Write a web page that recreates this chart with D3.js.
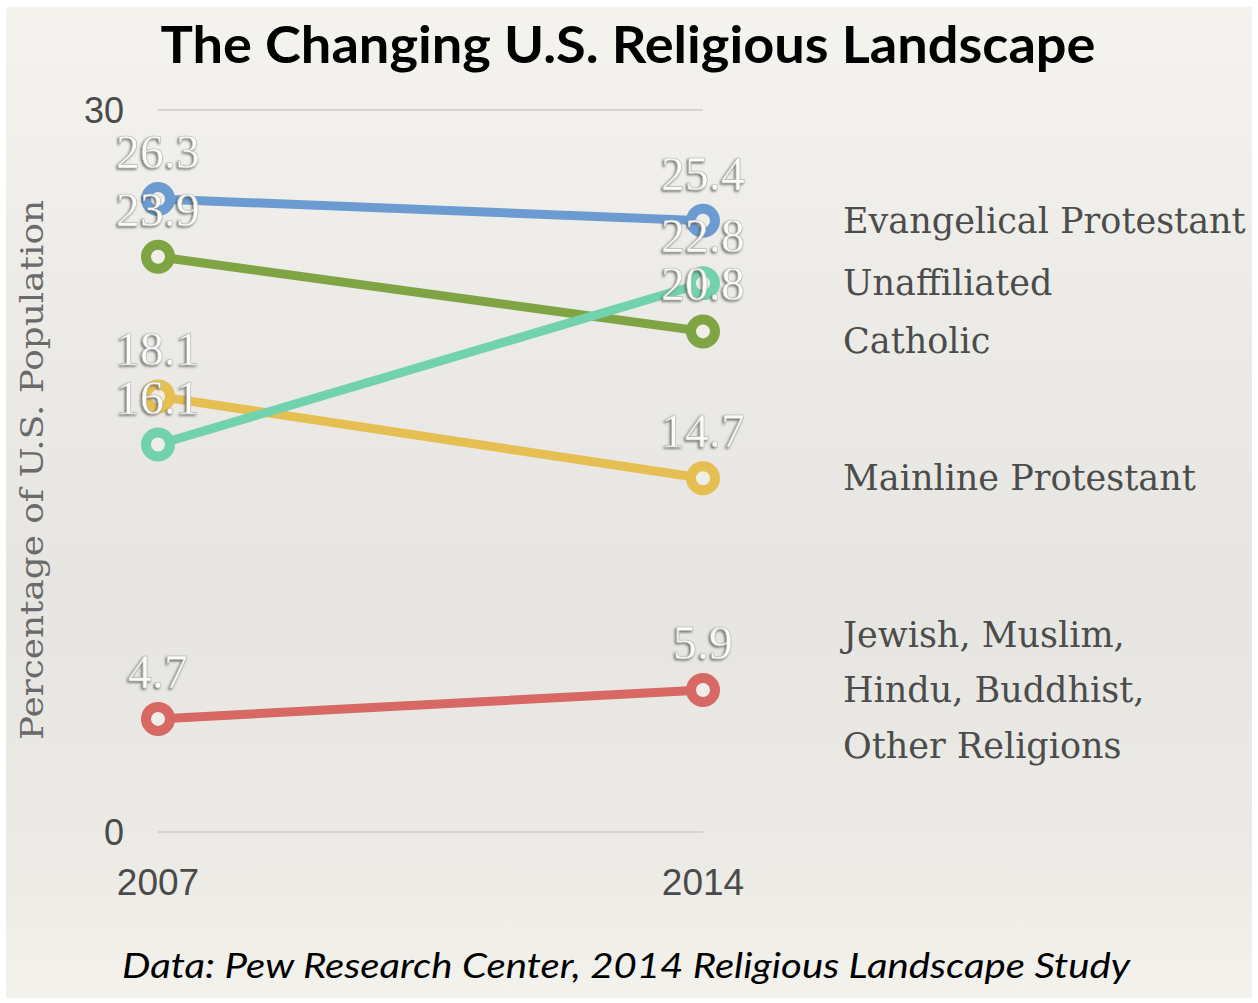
<!DOCTYPE html>
<html>
<head>
<meta charset="utf-8">
<script src="https://cdn.jsdelivr.net/npm/d3@7"></script>
<style>
  html, body { margin: 0; padding: 0; background: #ffffff; }
  svg { display: block; }
</style>
</head>
<body>
<svg id="chart" width="1258" height="1003"></svg>
<script>
// ---- Data ----
const years = ["2007", "2014"];
const seriesNames = ["Evangelical Protestant", "Unaffiliated", "Catholic", "Mainline Protestant", "Jewish, Muslim, Hindu, Buddhist, Other Religions"];
const values2007 = [26.3, 16.1, 23.9, 18.1, 4.7];
const values2014 = [25.4, 22.8, 20.8, 14.7, 5.9];
const seriesColors = ["#6b9bd0", "#72d2ad", "#7fa443", "#e6bf52", "#d76863"];
const legendLines = [
  ["Evangelical Protestant"],
  ["Unaffiliated"],
  ["Catholic"],
  ["Mainline Protestant"],
  ["Jewish, Muslim,", "Hindu, Buddhist,", "Other Religions"]
];
const yTicks = [0, 30];
const titleText = "The Changing U.S. Religious Landscape";
const yAxisTitle = "Percentage of U.S. Population";
const sourceText = "Data: Pew Research Center, 2014 Religious Landscape Study";

// ---- Setup ----
const W = 1258, H = 1003;
const svg = d3.select("#chart");
const defs = svg.append("defs");

const bg = defs.append("linearGradient").attr("id", "bg").attr("x1", 0).attr("y1", 0).attr("x2", 0).attr("y2", 1);
bg.append("stop").attr("offset", "0%").attr("stop-color", "#f4f3ee");
bg.append("stop").attr("offset", "30%").attr("stop-color", "#ecebe7");
bg.append("stop").attr("offset", "60%").attr("stop-color", "#e6e5e1");
bg.append("stop").attr("offset", "88%").attr("stop-color", "#ecebe6");
bg.append("stop").attr("offset", "100%").attr("stop-color", "#f3f2ed");

const sh = defs.append("filter").attr("id", "lblshadow").attr("x", "-20%").attr("y", "-20%").attr("width", "140%").attr("height", "140%");
sh.append("feDropShadow").attr("dx", -1.5).attr("dy", 1.5).attr("stdDeviation", 1.1)
  .attr("flood-color", "#4a4a4a").attr("flood-opacity", 0.75);

svg.append("rect").attr("x", 0).attr("y", 0).attr("width", W).attr("height", H).attr("fill", "#ffffff");
svg.append("rect").attr("x", 6).attr("y", 7).attr("width", W - 12).attr("height", H - 12).attr("fill", "url(#bg)");

// Title
svg.append("text")
  .attr("x", 628).attr("y", 63)
  .attr("text-anchor", "middle")
  .attr("font-family", "Lato, 'Open Sans', sans-serif")
  .attr("font-weight", 700)
  .attr("font-size", 52)
  .attr("fill", "#000")
  .attr("textLength", 935).attr("lengthAdjust", "spacingAndGlyphs")
  .text(titleText);

// Scales
const x = d3.scalePoint().domain(years).range([158, 703]).padding(0);
const y = d3.scaleLinear().domain([0, 30]).range([832, 110]);

// Gridlines
svg.append("g").selectAll("line").data(yTicks).join("line")
  .attr("x1", x("2007")).attr("x2", x("2014"))
  .attr("y1", d => y(d)).attr("y2", d => y(d))
  .attr("stroke", "#d6d4cf").attr("stroke-width", 2);

// Y tick labels
svg.append("g").selectAll("text").data(yTicks).join("text")
  .attr("x", 124).attr("y", d => y(d)).attr("dy", "0.36em")
  .attr("text-anchor", "end")
  .attr("font-family", "'Liberation Sans', Arial, sans-serif")
  .attr("font-size", 36).attr("fill", "#4a4a4a")
  .text(d => d);

// X tick labels
svg.append("g").selectAll("text").data(years).join("text")
  .attr("x", d => x(d)).attr("y", 895)
  .attr("text-anchor", "middle")
  .attr("font-family", "'Liberation Sans', Arial, sans-serif")
  .attr("font-size", 37).attr("fill", "#4a4a4a")
  .text(d => d);

// Y axis title
svg.append("text")
  .attr("transform", "translate(43,470) rotate(-90)")
  .attr("text-anchor", "middle")
  .attr("font-family", "'DejaVu Serif', 'Liberation Serif', serif")
  .attr("font-size", 31).attr("fill", "#6a6a6a")
  .attr("textLength", 540).attr("lengthAdjust", "spacingAndGlyphs")
  .text(yAxisTitle);

// Series data
const data = seriesNames.map((name, i) => ({
  name, color: seriesColors[i],
  pts: [{ yr: years[0], v: values2007[i] }, { yr: years[1], v: values2014[i] }]
}));
const drawOrder = [4, 3, 2, 1, 0];
const line = d3.line().x(d => x(d.yr)).y(d => y(d.v));

const marks = svg.append("g");
drawOrder.forEach(i => {
  const s = data[i];
  marks.append("path").datum(s.pts)
    .attr("d", line).attr("fill", "none")
    .attr("stroke", s.color).attr("stroke-width", 9).attr("stroke-linecap", "round");
  marks.append("g").selectAll("circle").data(s.pts).join("circle")
    .attr("cx", d => x(d.yr)).attr("cy", d => y(d.v)).attr("r", 12)
    .attr("fill", "#efeee9").attr("stroke", s.color).attr("stroke-width", 10);
});

// Value labels
const labels = svg.append("g");
data.forEach(s => {
  labels.append("g").selectAll("text").data(s.pts).join("text")
    .attr("x", d => x(d.yr)).attr("y", d => y(d.v) - 31)
    .attr("text-anchor", "middle")
    .attr("font-family", "'Liberation Serif', 'Times New Roman', serif")
    .attr("font-size", 48)
    .attr("fill", "#fbfbfa")
    .attr("stroke", "#b5b5b5").attr("stroke-width", 0.6)
    .attr("filter", "url(#lblshadow)")
    .text(d => d3.format(".1f")(d.v));
});

// Legend with simple collision avoidance
const order = d3.range(data.length).sort((a, b) => values2014[b] - values2014[a]);
let prev = -Infinity;
const legendY = [];
order.forEach(i => {
  let cy = y(values2014[i]);
  if (cy - prev < 58) cy = prev + 58;
  legendY[i] = cy;
  prev = cy;
});
const lineGap = 55.5;
const legend = svg.append("g");
data.forEach((s, i) => {
  const lines = legendLines[i];
  const t = legend.append("text")
    .attr("font-family", "'DejaVu Serif', 'Liberation Serif', serif")
    .attr("font-size", 35).attr("fill", "#4c4c4c");
  lines.forEach((ln, k) => {
    t.append("tspan")
      .attr("x", 843)
      .attr("y", legendY[i] + 12 + (k - (lines.length - 1) / 2) * lineGap)
      .text(ln);
  });
});

// Source
svg.append("text")
  .attr("x", 626).attr("y", 978)
  .attr("text-anchor", "middle")
  .attr("font-family", "Lato, 'Open Sans', sans-serif")
  .attr("font-style", "italic")
  .attr("font-size", 35).attr("fill", "#000")
  .attr("textLength", 1008).attr("lengthAdjust", "spacingAndGlyphs")
  .text(sourceText);
</script>
</body>
</html>
